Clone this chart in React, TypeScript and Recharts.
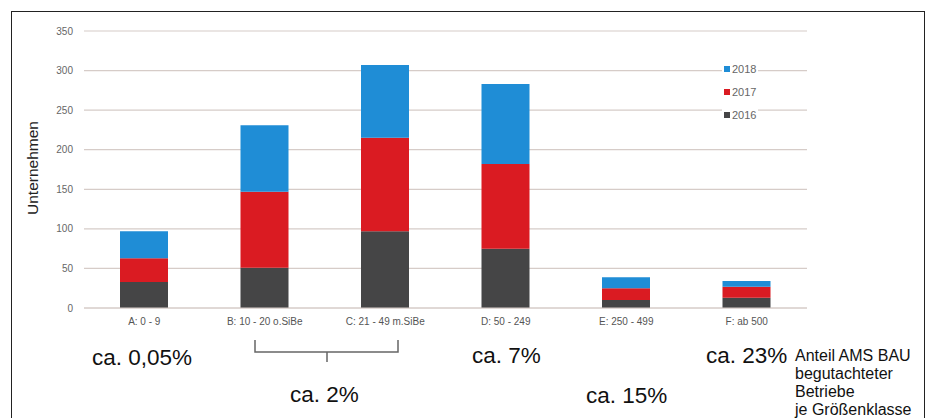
import { BarChart, Bar, XAxis, YAxis, CartesianGrid } from 'recharts'

const categories = ['A: 0 - 9', 'B: 10 - 20 o.SiBe', 'C: 21 - 49 m.SiBe', 'D: 50 - 249', 'E: 250 - 499', 'F: ab 500']
const values2016 = [33, 51, 97, 75, 10, 13]
const values2017 = [30, 96, 118, 107, 15, 14]
const values2018 = [34, 84, 92, 101, 14, 7]
const yTicks = [0, 50, 100, 150, 200, 250, 300, 350]

const data = categories.map((name, i) => ({
  name,
  y2016: values2016[i],
  y2017: values2017[i],
  y2018: values2018[i],
}))

const FONT = '"Liberation Sans", Arial, sans-serif'

const legendItems = [
  { label: '2018', color: '#1f8dd6' },
  { label: '2017', color: '#da1b22' },
  { label: '2016', color: '#454546' },
]

export default function App() {
  return (
    <div style={{ position: 'fixed', left: 0, top: 0, width: 930, height: 418, background: '#fff', overflow: 'hidden', fontFamily: FONT }}>
      <div style={{ position: 'absolute', left: 11, top: 11, width: 912, height: 420, border: '1.5px solid #222' }} />
      <div style={{ position: 'absolute', left: 0, top: 0 }}>
        <BarChart width={930} height={418} data={data} margin={{ top: 31, right: 123, bottom: 80, left: 24 }} barSize={48}>
          <CartesianGrid vertical={false} stroke="#d6ccc8" strokeWidth={1.2} />
          <XAxis
            dataKey="name"
            height={30}
            axisLine={{ stroke: '#d6ccc8' }}
            tickLine={false}
            tickMargin={4}
            tick={{ fontSize: 10, fill: '#555', fontFamily: FONT }}
            interval={0}
          />
          <YAxis
            width={60}
            domain={[0, 350]}
            ticks={yTicks}
            axisLine={false}
            tickLine={false}
            tickMargin={5}
            tick={{ fontSize: 10, fill: '#666', fontFamily: FONT }}
          />
          <Bar dataKey="y2016" stackId="a" fill="#454546" isAnimationActive={false} />
          <Bar dataKey="y2017" stackId="a" fill="#da1b22" isAnimationActive={false} />
          <Bar dataKey="y2018" stackId="a" fill="#1f8dd6" isAnimationActive={false} />
        </BarChart>
      </div>
      <div style={{ position: 'absolute', left: 722, top: 57, fontSize: 11, color: '#666', background: '#fff', padding: '0 2px' }}>
        {legendItems.map((it) => (
          <div key={it.label} style={{ display: 'flex', alignItems: 'center', height: 23 }}>
            <span style={{ width: 6, height: 6, background: it.color, marginRight: 2 }} />
            {it.label}
          </div>
        ))}
      </div>
      <svg width={930} height={418} style={{ position: 'absolute', left: 0, top: 0, pointerEvents: 'none' }}>
        <text x={38} y={168} transform="rotate(-90 38 168)" textAnchor="middle" fontSize={15.5} fill="#222" fontFamily={FONT}>
          Unternehmen
        </text>
        <path d="M255 340 V352 H327 V362 M327 352 H398 V340" fill="none" stroke="#666" strokeWidth={1.5} />
        <g fontFamily={FONT} fontSize={22.5} fill="#111">
          <text x={92} y={365}>ca. 0,05%</text>
          <text x={290} y={402}>ca. 2%</text>
          <text x={472} y={363}>ca. 7%</text>
          <text x={586} y={403}>ca. 15%</text>
          <text x={706} y={363}>ca. 23%</text>
        </g>
        <g fontFamily={FONT} fontSize={16} fill="#111">
          <text x={795} y={361}>Anteil AMS BAU</text>
          <text x={795} y={379}>begutachteter</text>
          <text x={795} y={397}>Betriebe</text>
          <text x={795} y={415}>je Größenklasse</text>
        </g>
      </svg>
    </div>
  )
}
